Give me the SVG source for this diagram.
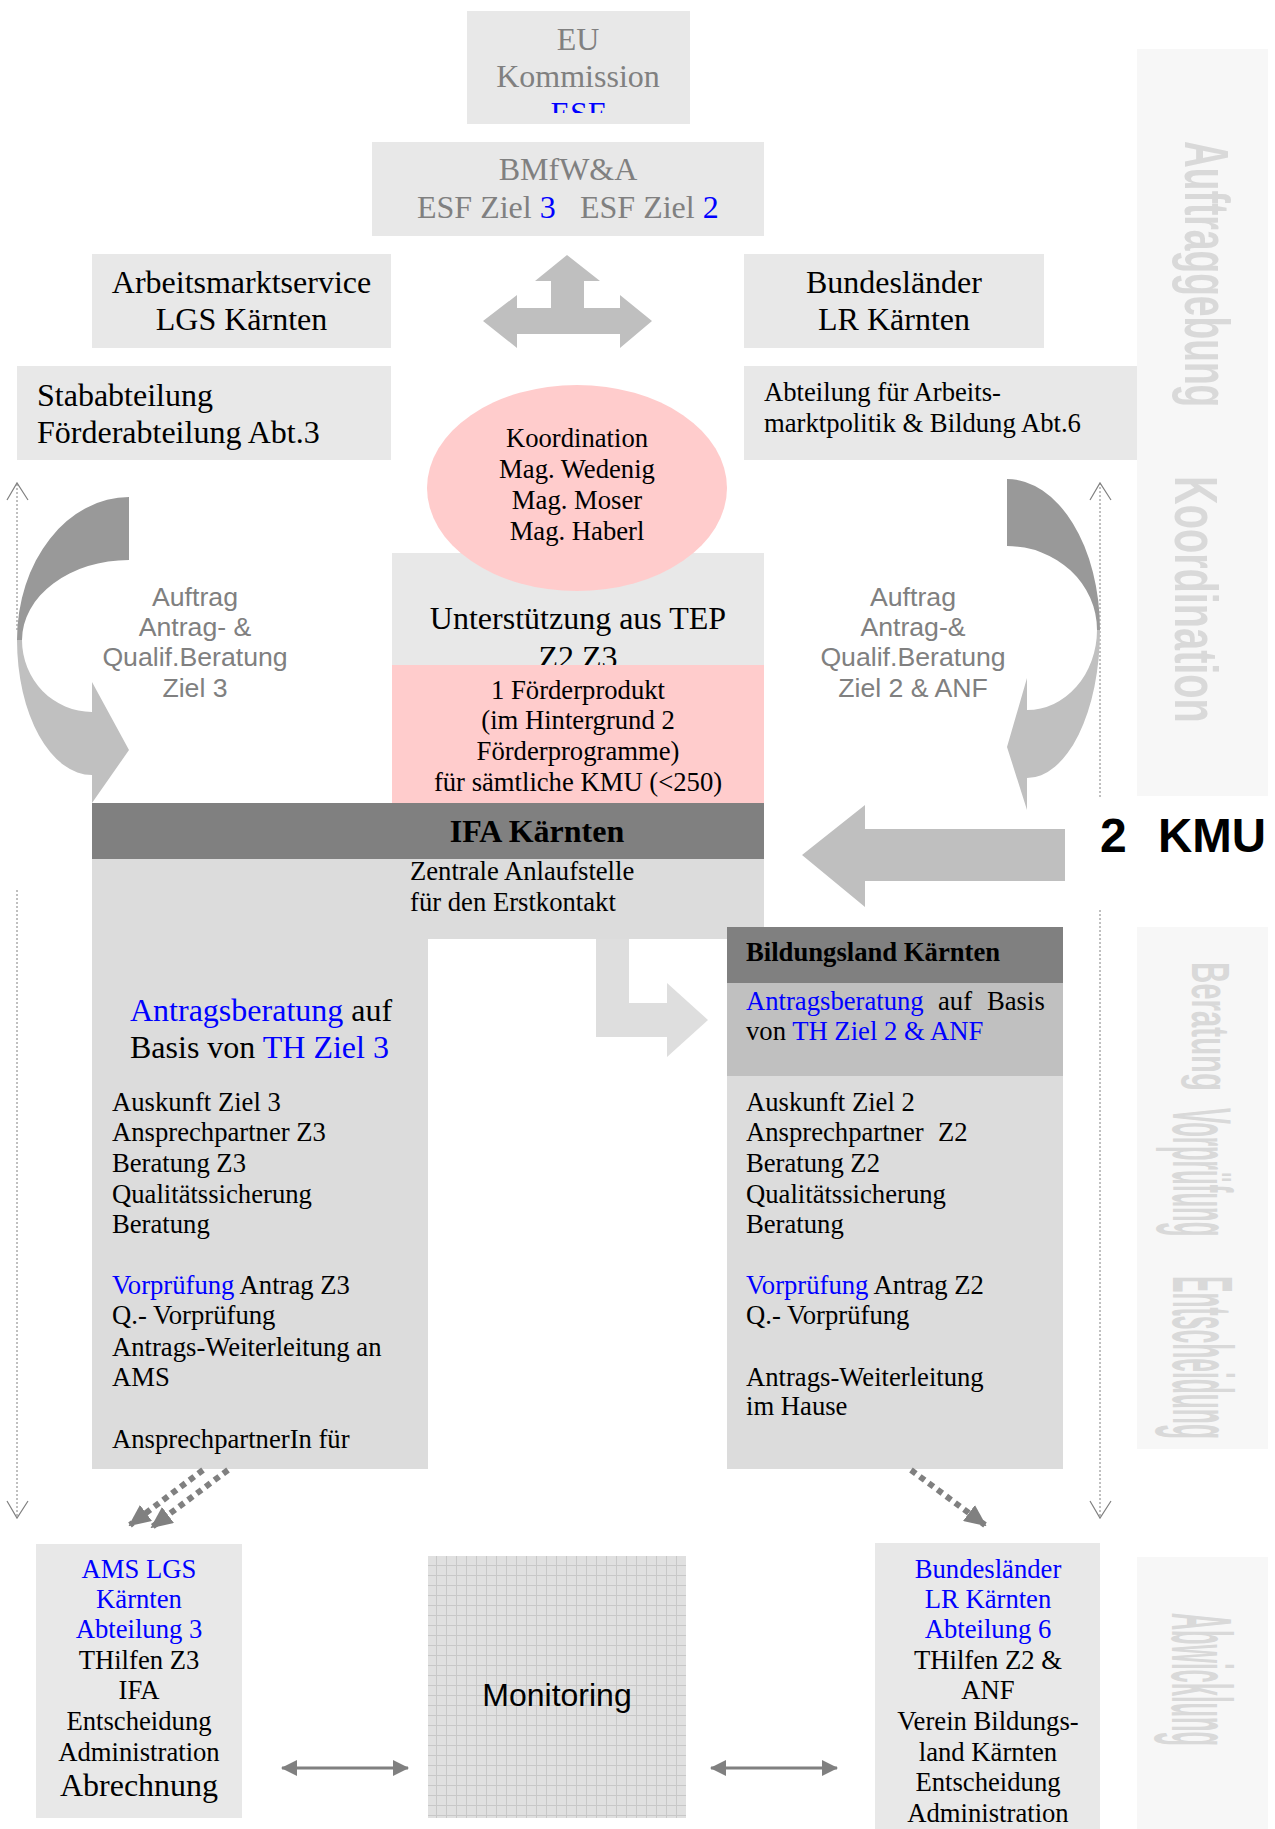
<svg xmlns="http://www.w3.org/2000/svg" width="1275" height="1829" viewBox="0 0 1275 1829">
<style>
text { font-family: "Liberation Serif", "Times New Roman", serif; fill: #000; }
.sans { font-family: "Liberation Sans", Arial, sans-serif; }
.f27 { font-size: 26.67px; }
.f32 { font-size: 32px; }
.mid { text-anchor: middle; }
.bold { font-weight: bold; }
.b { fill: #0000ff; }
.g { fill: #808080; }
.box { fill: #e8e8e8; }
.ifa { fill: #dcdcdc; }
.dark { fill: #808080; }
.pink { fill: #ffcccc; }
.band { fill: #f7f7f7; }
.bandtxt { font-family: "Liberation Sans", Arial, sans-serif; font-weight: bold; fill: #d9d9d9; }
.dot { fill: none; stroke: #808080; stroke-width: 1; stroke-dasharray: 2 2; }
.chev { fill: none; stroke: #808080; stroke-width: 1.2; }
.thick { fill: none; stroke: #808080; stroke-width: 6; stroke-dasharray: 6 5; }
.dbl { fill: none; stroke: #808080; stroke-width: 3; }
.big { fill: #bfbfbf; }
.cdark { fill: #999999; }
.clight { fill: #c0c0c0; }
</style>
<defs>
<clipPath id="euclip"><rect x="467" y="11" width="223" height="102"/></clipPath>
<pattern id="grid" x="428" y="1556" width="10" height="10" patternUnits="userSpaceOnUse">
<rect width="10" height="10" fill="#e0e0e0"/>
<path d="M8.5,0 V10 M0,9.5 H10" stroke="#c8c8c8" stroke-width="1"/>
</pattern>
<marker id="ah" viewBox="0 0 22 20" refX="20" refY="10" markerWidth="22" markerHeight="20" markerUnits="userSpaceOnUse" orient="auto">
<path d="M0,0 L22,10 L0,20 z" fill="#808080"/>
</marker>
<marker id="ah2" viewBox="0 0 16 16" refX="15" refY="8" markerWidth="16" markerHeight="16" markerUnits="userSpaceOnUse" orient="auto-start-reverse">
<path d="M0,0 L16,8 L0,16 z" fill="#808080"/>
</marker>
</defs>

<rect width="1275" height="1829" fill="#ffffff"/>

<!-- side bands -->
<g id="band-auftraggebung">
<rect class="band" x="1137" y="49" width="131" height="747"/>
<text class="bandtxt" font-size="63" transform="translate(1185,141) rotate(90) scale(0.590,1)">Auftraggebung</text>
<text class="bandtxt" font-size="62" transform="translate(1175,476) rotate(90) scale(0.640,1)">Koordination</text>
</g>
<g id="band-beratung">
<rect class="band" x="1137" y="927" width="131" height="522"/>
<text class="bandtxt" font-size="53" transform="translate(1192,962) rotate(90) scale(0.5546,1)">Beratung</text>
<text class="bandtxt" font-size="84" transform="translate(1173,1108) rotate(90) scale(0.2843,1)">Vorprüfung</text>
<text class="bandtxt" font-size="86" transform="translate(1173,1276) rotate(90) scale(0.2867,1)">Entscheidung</text>
</g>
<g id="band-abwicklung">
<rect class="band" x="1137" y="1557" width="131" height="272"/>
<text class="bandtxt" font-size="86" transform="translate(1172,1613) rotate(90) scale(0.2756,1)">Abwicklung</text>
</g>

<!-- top nodes -->
<g id="eu">
<rect class="box" x="467" y="11" width="223" height="113"/>
<g clip-path="url(#euclip)">
<text class="f32 mid g" x="578" y="50">EU</text>
<text class="f32 mid g" x="578" y="87">Kommission</text>
<text class="f32 mid b" x="578" y="124">ESF</text>
</g>
</g>
<g id="bmfwa">
<rect class="box" x="372" y="142" width="392" height="94"/>
<text class="f32 mid g" x="568" y="180">BMfW&amp;A</text>
<text class="f32 g" x="417" y="218">ESF Ziel <tspan class="b">3</tspan></text>
<text class="f32 g" x="580" y="218">ESF Ziel <tspan class="b">2</tspan></text>
</g>
<g id="ams">
<rect class="box" x="92" y="254" width="299" height="94"/>
<text class="f32 mid" x="241.5" y="293">Arbeitsmarktservice</text>
<text class="f32 mid" x="241.5" y="330">LGS Kärnten</text>
</g>
<g id="bundeslaender">
<rect class="box" x="744" y="254" width="300" height="94"/>
<text class="f32 mid" x="894" y="293">Bundesländer</text>
<text class="f32 mid" x="894" y="330">LR Kärnten</text>
</g>
<g id="stab">
<rect class="box" x="17" y="366" width="374" height="94"/>
<text class="f32" x="37" y="406">Stababteilung</text>
<text class="f32" x="37" y="443">Förderabteilung Abt.3</text>
</g>
<g id="abt6">
<rect class="box" x="744" y="366" width="393" height="94"/>
<text class="f27" x="764" y="401">Abteilung für Arbeits-</text>
<text class="f27" x="764" y="432">marktpolitik &amp; Bildung Abt.6</text>
</g>

<!-- TEP / Förderprodukt -->
<g id="tep">
<rect class="box" x="392" y="553" width="372" height="112"/>
<text class="f32 mid" x="578" y="629">Unterstützung aus TEP</text>
<text class="f32 mid" x="578" y="668">Z2 Z3</text>
</g>
<g id="foerderprodukt">
<rect class="pink" x="392" y="665" width="372" height="138"/>
<text class="f27 mid" x="578" y="699">1 Förderprodukt</text>
<text class="f27 mid" x="578" y="729">(im Hintergrund 2</text>
<text class="f27 mid" x="578" y="760">Förderprogramme)</text>
<text class="f27 mid" x="578" y="791">für sämtliche KMU (&lt;250)</text>
</g>
<g id="koordination">
<ellipse class="pink" cx="577" cy="488" rx="150" ry="103"/>
<text class="f27 mid" x="577" y="447">Koordination</text>
<text class="f27 mid" x="577" y="478">Mag. Wedenig</text>
<text class="f27 mid" x="577" y="509">Mag. Moser</text>
<text class="f27 mid" x="577" y="540">Mag. Haberl</text>
</g>

<!-- IFA -->
<g id="ifa">
<path class="ifa" d="M92,859 H764 V939 H428 V1469 H92 Z"/>
<rect class="dark" x="92" y="803" width="672" height="56"/>
<text class="f32 mid bold" x="537" y="842">IFA Kärnten</text>
<text class="f27" x="410" y="880">Zentrale Anlaufstelle</text>
<text class="f27" x="410" y="911">für den Erstkontakt</text>
<text class="f32" x="130" y="1021"><tspan class="b">Antragsberatung</tspan> auf</text>
<text class="f32" x="130" y="1058">Basis von <tspan class="b">TH Ziel 3</tspan></text>
<text class="f27" x="112" y="1111">Auskunft Ziel 3</text>
<text class="f27" x="112" y="1141">Ansprechpartner Z3</text>
<text class="f27" x="112" y="1172">Beratung Z3</text>
<text class="f27" x="112" y="1203">Qualitätssicherung</text>
<text class="f27" x="112" y="1233">Beratung</text>
<text class="f27" x="112" y="1294"><tspan class="b">Vorprüfung</tspan> Antrag Z3</text>
<text class="f27" x="112" y="1324">Q.- Vorprüfung</text>
<text class="f27" x="112" y="1356">Antrags-Weiterleitung an</text>
<text class="f27" x="112" y="1386">AMS</text>
<text class="f27" x="112" y="1448">AnsprechpartnerIn für</text>
</g>

<!-- Bildungsland -->
<g id="bildungsland">
<rect class="dark" x="727" y="927" width="336" height="56"/>
<rect fill="#c0c0c0" x="727" y="983" width="336" height="93"/>
<rect class="ifa" x="727" y="1076" width="336" height="393"/>
<text class="f27 bold" x="746" y="961">Bildungsland Kärnten</text>
<text class="f27" x="746" y="1010"><tspan class="b">Antragsberatung</tspan> <tspan x="938">auf</tspan> <tspan x="987">Basis</tspan></text>
<text class="f27" x="746" y="1040">von <tspan class="b">TH Ziel 2 &amp; ANF</tspan></text>
<text class="f27" x="746" y="1111">Auskunft Ziel 2</text>
<text class="f27" x="746" y="1141">Ansprechpartner <tspan x="938">Z2</tspan></text>
<text class="f27" x="746" y="1172">Beratung Z2</text>
<text class="f27" x="746" y="1203">Qualitätssicherung</text>
<text class="f27" x="746" y="1233">Beratung</text>
<text class="f27" x="746" y="1294"><tspan class="b">Vorprüfung</tspan> Antrag Z2</text>
<text class="f27" x="746" y="1324">Q.- Vorprüfung</text>
<text class="f27" x="746" y="1386">Antrags-Weiterleitung</text>
<text class="f27" x="746" y="1415">im Hause</text>
</g>

<!-- KMU -->
<g id="kmu">
<text class="sans bold" font-size="48" x="1100" y="852">2 <tspan x="1158" textLength="108" lengthAdjust="spacingAndGlyphs">KMU</tspan></text>
</g>

<!-- bottom nodes -->
<g id="ams-abwicklung">
<rect class="box" x="36" y="1544" width="206" height="274"/>
<text class="f27 mid b" x="139" y="1578">AMS LGS</text>
<text class="f27 mid b" x="139" y="1608">Kärnten</text>
<text class="f27 mid b" x="139" y="1638">Abteilung 3</text>
<text class="f27 mid" x="139" y="1669">THilfen Z3</text>
<text class="f27 mid" x="139" y="1699">IFA</text>
<text class="f27 mid" x="139" y="1730">Entscheidung</text>
<text class="f27 mid" x="139" y="1761">Administration</text>
<text class="f32 mid" x="139" y="1796">Abrechnung</text>
</g>
<g id="monitoring">
<rect x="428" y="1556" width="258" height="262" fill="url(#grid)"/>
<text class="sans f32 mid" x="557" y="1706">Monitoring</text>
</g>
<g id="land-abwicklung">
<rect class="box" x="875" y="1543" width="225" height="286"/>
<text class="f27 mid b" x="988" y="1578">Bundesländer</text>
<text class="f27 mid b" x="988" y="1608">LR Kärnten</text>
<text class="f27 mid b" x="988" y="1638">Abteilung 6</text>
<text class="f27 mid" x="988" y="1669">THilfen Z2 &amp;</text>
<text class="f27 mid" x="988" y="1699">ANF</text>
<text class="f27 mid" x="988" y="1730">Verein Bildungs-</text>
<text class="f27 mid" x="988" y="1761">land Kärnten</text>
<text class="f27 mid" x="988" y="1791">Entscheidung</text>
<text class="f27 mid" x="988" y="1822">Administration</text>
</g>

<!-- connectors -->
<g id="connectors">
<path class="dot" d="M17,630 V484 M1100,797 V484 M17,890 V1517 M1100,910 V1517"/>
<path class="chev" d="M7,500 L17,483 L28,500 M1090,500 L1100,483 L1111,500 M7,1501 L17,1518 L28,1501 M1090,1501 L1100,1518 L1111,1501"/>
<polygon class="big" points="567,255 600,281 584,281 584,308 620,308 620,295 652,321 620,348 620,334 517,334 517,348 483,321 517,295 517,308 551,308 551,281 535,281"/>
<path class="cdark" d="M129,497 A112,143 0 0 0 17,640 L22,640 A107,80 0 0 1 129,560 Z"/>
<path class="clight" d="M17,640 A75,135 0 0 0 92,775 L92,803 L129,750 L92,682 L92,712 A70,72 0 0 1 22,640 Z"/>
<path class="cdark" d="M1007,479 A93,151 0 0 1 1100,630 L1097,630 A90,84 0 0 0 1007,546 Z"/>
<path class="clight" d="M1100,630 A73,148 0 0 1 1027,778 L1027,810 L1007,747 L1027,678 L1027,710 A70,80 0 0 0 1097,630 Z"/>
<polygon class="big" points="802,855 865,805 865,829 1065,829 1065,881 865,881 865,907"/>
<polygon fill="#dedede" points="596,939 629,939 629,1003 667,1003 667,983 708,1020 667,1057 667,1037 596,1037"/>
<line class="thick" x1="203" y1="1470" x2="130" y2="1525" marker-end="url(#ah)"/>
<line class="thick" x1="228" y1="1470" x2="152" y2="1527" marker-end="url(#ah)"/>
<line class="thick" x1="911" y1="1470" x2="985" y2="1525" marker-end="url(#ah)"/>
<line class="dbl" x1="282" y1="1768" x2="408" y2="1768" marker-start="url(#ah2)" marker-end="url(#ah2)"/>
<line class="dbl" x1="711" y1="1768" x2="837" y2="1768" marker-start="url(#ah2)" marker-end="url(#ah2)"/>
<text class="sans f27 mid g" x="195" y="606">Auftrag</text>
<text class="sans f27 mid g" x="195" y="636">Antrag- &amp;</text>
<text class="sans f27 mid g" x="195" y="666">Qualif.Beratung</text>
<text class="sans f27 mid g" x="195" y="697">Ziel 3</text>
<text class="sans f27 mid g" x="913" y="606">Auftrag</text>
<text class="sans f27 mid g" x="913" y="636">Antrag-&amp;</text>
<text class="sans f27 mid g" x="913" y="666">Qualif.Beratung</text>
<text class="sans f27 mid g" x="913" y="697">Ziel 2 &amp; ANF</text>
</g>
</svg>
